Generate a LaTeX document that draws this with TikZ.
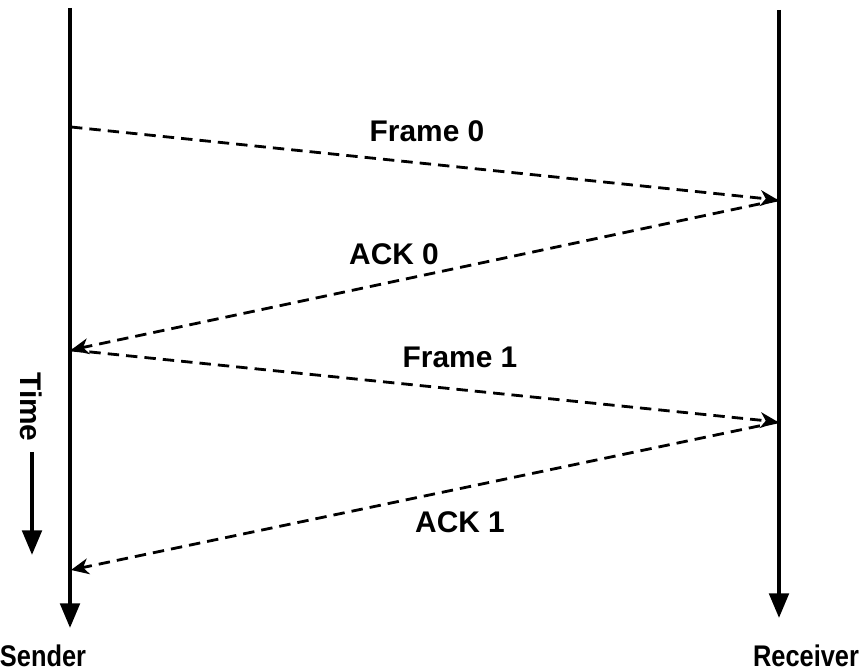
\documentclass[tikz,border=0pt]{standalone}
\usepackage{fontspec}
\setmainfont{Liberation Sans}
\usetikzlibrary{arrows.meta,positioning}

\begin{document}
\begin{tikzpicture}[x=0.02cm, y=-0.02cm, font=\bfseries\fontsize{17}{19}\selectfont]
    \tikzset{
        lbl/.style      =   { inner sep=1pt
        }
        , end/.style    =   { inner sep=1pt
                            , xscale=0.85
        }
        , life/.style   =   { line width=2.3pt
                            , -{Triangle[width=11pt, length=14pt]}
        }
        , msg/.style    =   { line width=1.6pt
                            , dash pattern=on 6.5pt off 4pt
                            , -{Stealth[width=9pt, length=10pt, inset=3pt]}
        }
    }
    \useasboundingbox (0,0) rectangle (862,671);

    % time lines
    \coordinate(s0) at (70,8);
    \coordinate(s1) at (70,628);
    \coordinate(r0) at (779,10);
    \coordinate(r1) at (779,618);
    \draw[life] (s0) -- (s1);
    \draw[life] (r0) -- (r1);
    \node(sender)[end]   at (43,656)  {Sender};
    \node(receiver)[end] at (806,656) {Receiver};

    % events
    \coordinate(f0s) at (71,127);
    \coordinate(f0r) at (778,200);
    \coordinate(f1s) at (71,350);
    \coordinate(f1r) at (778,422);
    \coordinate(a1s) at (71,570);

    \draw[msg] (f0s) -- (f0r);
    \draw[msg] (f0r) -- (f1s);
    \draw[msg] (f1s) -- (f1r);
    \draw[msg] (f1r) -- (a1s);

    \node(frame0)[lbl] at (427,131) {Frame 0};
    \node(ack0)[lbl]   at (394,254) {ACK 0};
    \node(frame1)[lbl] at (460,357) {Frame 1};
    \node(ack1)[lbl]   at (460,522) {ACK 1};

    % time
    \node(time)[lbl, rotate=-90] at (31,407) {Time};
    \coordinate(t0) at (32,452);
    \coordinate(t1) at (32,555);
    \draw[life] (t0) -- (t1);
\end{tikzpicture}
\end{document}
